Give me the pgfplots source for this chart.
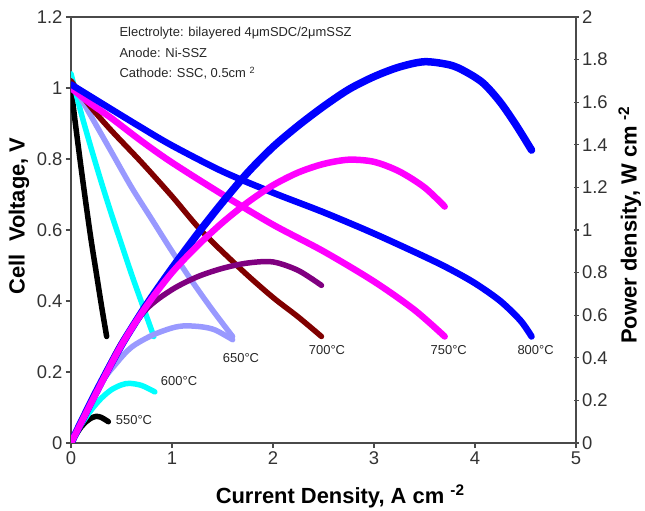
\documentclass[border=0pt]{standalone}
\usepackage{pgfplots}
\pgfplotsset{compat=1.18}
\usepackage{fontspec}
\setmainfont{Liberation Sans}

\definecolor{axisgray}{HTML}{4A4A4A}
\definecolor{t550}{HTML}{000000}
\definecolor{t600}{HTML}{00FFFF}
\definecolor{t650}{HTML}{9999FF}
\definecolor{t700}{HTML}{800000}
\definecolor{t700p}{HTML}{800080}
\definecolor{t750}{HTML}{FF00FF}
\definecolor{t800}{HTML}{0000FF}

\pgfplotsset{
  base/.style={
    scale only axis, width=505bp, height=426bp,
    xmin=0, xmax=5,
    axis line style={axisgray, line width=1.1bp},
    tick style={axisgray, line width=1.1bp},
    major tick length=5bp,
    tick label style={font=\fontsize{18.5}{20}\selectfont, text=black!80},
    /pgf/number format/assume math mode=true,
    label style={font=\bfseries\fontsize{22}{24}\selectfont},
  },
  curve/.style={no markers, smooth, tension=0.5, line cap=round, line join=round, line width=#1},
  curve/.default=5.5bp,
}

\begin{document}
\begin{tikzpicture}
% cell voltage (left axis)
\begin{axis}[base, name=main,
  ymin=0, ymax=1.2,
  xtick={0,1,2,3,4,5}, ytick={0,0.2,0.4,0.6,0.8,1,1.2},
  xtick pos=bottom, ytick pos=left, tick align=outside,
  xlabel={Current Density, A cm \textsuperscript{-2}},
  xlabel style={at={(axis description cs:0.533,-0.141)}, anchor=base},
  ylabel={Cell\ \ Voltage, V},
  ylabel style={at={(axis description cs:-0.103,0.533)}, anchor=center},
]
\addplot[curve, color=t550] coordinates {(0,1.00) (0.05,0.885) (0.1,0.775) (0.15,0.67) (0.2,0.57) (0.25,0.48) (0.3,0.39) (0.353,0.30)};
\addplot[curve, color=t600] coordinates {(0,1.04) (0.1,0.93) (0.2,0.83) (0.3,0.735) (0.4,0.645) (0.5,0.56) (0.6,0.475) (0.7,0.395) (0.82,0.30)};
\addplot[curve, color=t650] coordinates {(0,1.02) (0.2,0.92) (0.4,0.82) (0.6,0.72) (0.8,0.63) (1.0,0.54) (1.2,0.455) (1.4,0.375) (1.6,0.30)};
\addplot[curve, color=t700] coordinates {(0,1.02) (0.2,0.945) (0.4,0.88) (0.7,0.79) (1.0,0.695) (1.3,0.595) (1.7,0.485) (2.0,0.41) (2.25,0.355) (2.48,0.30)};
\addplot[curve=6.5bp, color=t750] coordinates {(0,1.00) (0.2,0.955) (0.4,0.915) (0.7,0.85) (1.0,0.79) (1.5,0.70) (2.0,0.615) (2.5,0.54) (3.0,0.455) (3.4,0.375) (3.7,0.30)};
\addplot[curve=6.5bp, color=t800] coordinates {(0,1.01) (0.2,0.975) (0.4,0.94) (0.7,0.888) (1.0,0.838) (1.5,0.765) (2.0,0.705) (2.5,0.65) (3.0,0.59) (3.5,0.525) (3.75,0.49) (4.0,0.45) (4.25,0.40) (4.45,0.345) (4.56,0.30)};

\begin{scope}[every node/.style={font=\fontsize{13}{15}\selectfont, text=black!85}]
\node[anchor=west] at (axis cs:0.446,1.155) {Electrolyte: bilayered 4μmSDC/2μmSSZ};
\node[anchor=west] at (axis cs:0.446,1.099) {Anode: Ni-SSZ};
\node[anchor=west] at (axis cs:0.446,1.042) {Cathode: SSC, 0.5cm \textsuperscript{2}};
\node at (axis cs:0.624,0.065) {550°C};
\node at (axis cs:1.07,0.175) {600°C};
\node at (axis cs:1.683,0.239) {650°C};
\node at (axis cs:2.535,0.262) {700°C};
\node at (axis cs:3.74,0.262) {750°C};
\node at (axis cs:4.6,0.262) {800°C};
\end{scope}
\end{axis}

% power density (right axis)
\begin{axis}[base, at={(main.south west)}, anchor=south west,
  ymin=0, ymax=2,
  axis x line=none, axis y line*=right, tick align=center,
  ytick={0,0.2,0.4,0.6,0.8,1,1.2,1.4,1.6,1.8,2},
  ylabel={Power density, W cm \textsuperscript{-2}},
  ylabel style={at={(axis description cs:1.12,0.512)}, anchor=base},
]
\addplot[curve, color=t550] coordinates {(0,0) (0.05,0.04) (0.1,0.075) (0.15,0.10) (0.2,0.117) (0.25,0.125) (0.3,0.12) (0.37,0.10)};
\addplot[curve, color=t600] coordinates {(0,0) (0.1,0.085) (0.2,0.155) (0.3,0.21) (0.4,0.25) (0.5,0.273) (0.58,0.28) (0.7,0.27) (0.83,0.24)};
\addplot[curve, color=t650] coordinates {(0,0) (0.27,0.26) (0.45,0.375) (0.6,0.45) (0.8,0.505) (1.0,0.54) (1.13,0.55) (1.3,0.545) (1.43,0.53) (1.6,0.485)};
\addplot[curve, color=t700p] coordinates {(0,0) (0.25,0.24) (0.5,0.47) (0.75,0.63) (1.0,0.72) (1.25,0.78) (1.5,0.82) (1.75,0.845) (2.0,0.85) (2.25,0.81) (2.48,0.74)};
\addplot[curve=7.5bp, color=t800] coordinates {(0,0) (0.25,0.24) (0.5,0.46) (0.75,0.65) (1.0,0.82) (1.25,0.98) (1.5,1.13) (1.75,1.27) (2.0,1.39) (2.25,1.49) (2.5,1.58) (2.75,1.66) (3.0,1.72) (3.25,1.765) (3.5,1.79) (3.75,1.775) (3.9,1.745) (4.08,1.69) (4.25,1.60) (4.41,1.49) (4.56,1.375)};
\addplot[curve=6.5bp, color=t750] coordinates {(0,0) (0.25,0.235) (0.5,0.46) (0.75,0.645) (1.0,0.80) (1.25,0.925) (1.5,1.035) (1.75,1.13) (2.0,1.21) (2.25,1.27) (2.5,1.31) (2.75,1.33) (3.0,1.32) (3.25,1.275) (3.5,1.20) (3.7,1.11)};
\end{axis}

\pgfresetboundingbox
\path ([shift={(-71bp,-68bp)}]main.south west) rectangle ([shift={(69bp,17bp)}]main.north east);
\end{tikzpicture}
\end{document}
